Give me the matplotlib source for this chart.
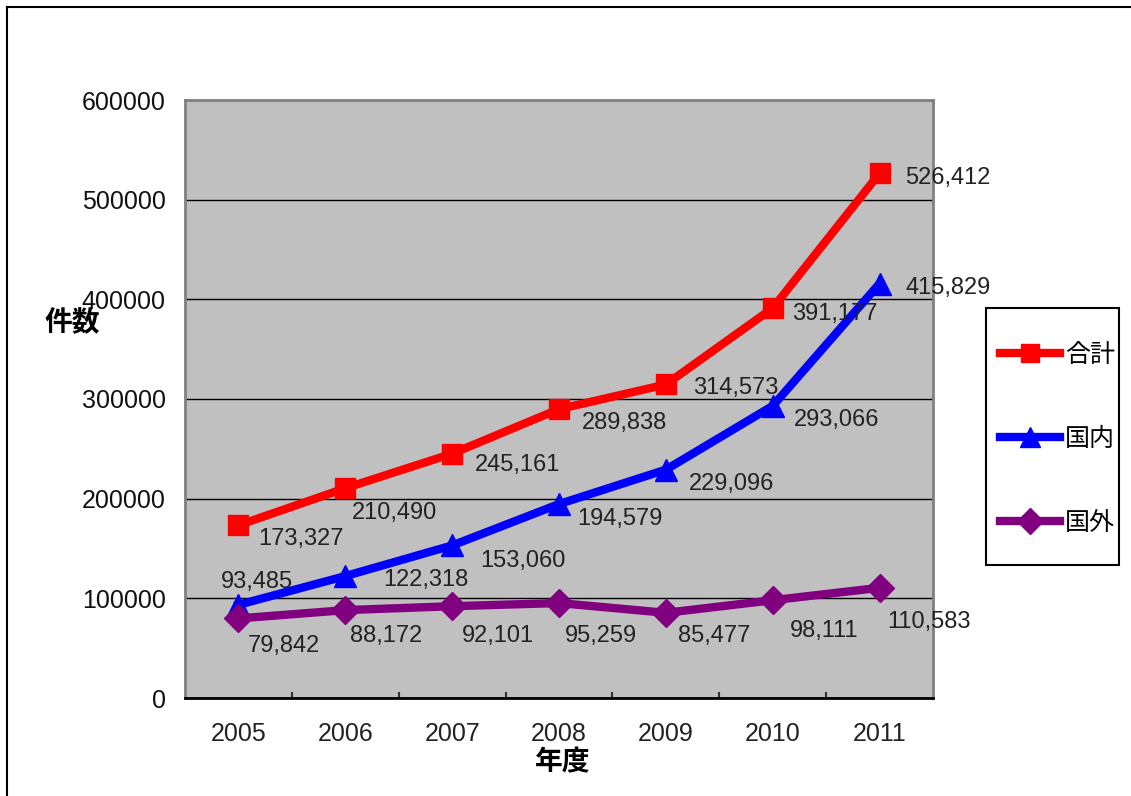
import matplotlib
matplotlib.use("Agg")
import matplotlib.pyplot as plt
from matplotlib.lines import Line2D
from matplotlib.patches import Rectangle
import numpy as np

plt.rcParams["font.family"] = ["Liberation Sans", "Noto Sans CJK JP"]

years = ["2005", "2006", "2007", "2008", "2009", "2010", "2011"]
total = [173327, 210490, 245161, 289838, 314573, 391177, 526412]
domestic = [93485, 122318, 153060, 194579, 229096, 293066, 415829]
overseas = [79842, 88172, 92101, 95259, 85477, 98111, 110583]

series_names = ["合計", "国内", "国外"]
yticks = [0, 100000, 200000, 300000, 400000, 500000, 600000]

# label offsets (pixels right, pixels down) from each point, as placed in the original
label_offsets = [
    [(20, 14), (7, 25), (23, 11), (23, 14), (27, 4), (19, 6), (26, 5)],
    [(-18, -23), (38, 4), (28, 16), (18, 15), (23, 14), (21, 14), (26, 4)],
    [(9, 28), (5, 26), (10, 30), (6, 33), (12, 23), (17, 31), (8, 34)],
]

W, H = 1131, 796
fig = plt.figure(figsize=(W / 100, H / 100), dpi=100)
ax = fig.add_axes([185 / W, 1 - 698 / H, (933 - 185) / W, (698 - 100) / H])
ax.set_facecolor("#C0C0C0")

x = np.arange(len(years))
styles = [
    dict(color="#FF0000", marker="s", ms=15),
    dict(color="#0000FF", marker="^", ms=16),
    dict(color="#800080", marker="D", ms=14.5),
]
handles = []
for vals, name, st, offs in zip([total, domestic, overseas], series_names, styles, label_offsets):
    (ln,) = ax.plot(x, vals, lw=6, color=st["color"], marker=st["marker"],
                    ms=st["ms"], mec=st["color"], mfc=st["color"], label=name,
                    solid_joinstyle="miter", zorder=3)
    handles.append(ln)
    for xi, v, (dx, dy) in zip(x, vals, offs):
        ax.annotate(f"{v:,}", (xi, v), xytext=(dx, -dy), textcoords="offset pixels",
                    ha="left", va="center", fontsize=17, color="#222222",
                    annotation_clip=False, zorder=4)

ax.set_xlim(-0.5, len(years) - 0.5)
ax.set_ylim(0, 600000)
ax.set_yticks(yticks)
ax.set_yticklabels([str(t) for t in yticks])
ax.yaxis.grid(True, color="black", lw=1.0)
ax.set_axisbelow(True)
ax.tick_params(axis="y", length=0, pad=14, labelsize=18, labelcolor="#111111")

ax.set_xticks(x)
ax.set_xticklabels(years)
ax.tick_params(axis="x", which="major", length=0, pad=17, labelsize=18, labelcolor="#222222")
ax.set_xticks(np.arange(0.5, len(years) - 1, 1.0), minor=True)
ax.tick_params(axis="x", which="minor", direction="in", length=4, width=1.5, color="#333333")

for side in ["left", "top", "right"]:
    ax.spines[side].set_color("#808080")
    ax.spines[side].set_linewidth(2)
ax.spines["bottom"].set_color("black")
ax.spines["bottom"].set_linewidth(2)

fig.text(72 / W, 1 - 324 / H, "件数", fontsize=20, fontweight="bold",
         ha="center", va="center")
fig.text(563 / W, 1 - 763 / H, "年度", fontsize=20, fontweight="bold",
         ha="center", va="center")

# legend box
fig.patches.append(Rectangle((986 / W, 1 - 565 / H), (1119 - 986) / W, (565 - 308) / H,
                             transform=fig.transFigure, fill=True, facecolor="white",
                             edgecolor="black", lw=1.5, zorder=1))
leg = fig.legend(handles=handles, loc="upper left",
                 bbox_to_anchor=(990 / W, 1 - 333 / H), frameon=False,
                 fontsize=18, handlelength=2.4, handletextpad=0.2,
                 labelspacing=2.4, borderaxespad=0, markerscale=0.9)
leg.set_zorder(5)

# outer border (top and left edges visible)
fig.add_artist(Line2D([7 / W, 1.0], [1 - 7 / H, 1 - 7 / H], color="black", lw=1.5,
                      transform=fig.transFigure))
fig.add_artist(Line2D([7 / W, 7 / W], [0.0, 1 - 7 / H], color="black", lw=1.5,
                      transform=fig.transFigure))

fig.savefig("out.png", dpi=100)
